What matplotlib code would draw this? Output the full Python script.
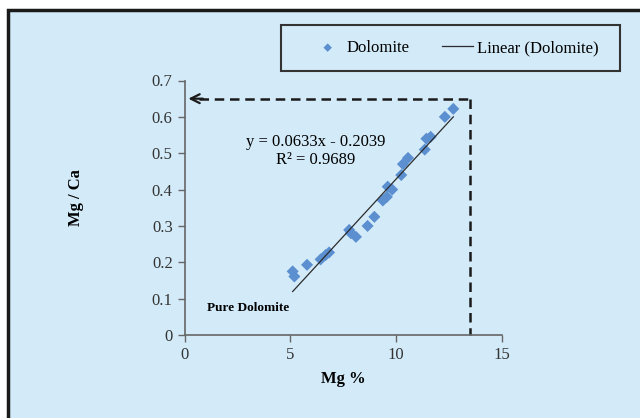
import numpy as np
import matplotlib.pyplot as plt
from matplotlib.patches import Rectangle

# Mg % and Mg/Ca ratio for the dolomite samples
mg_pct = np.array([5.11, 5.19, 5.79, 6.43, 6.67, 6.83, 7.78, 7.86, 8.10, 8.65,
                   8.97, 9.37, 9.56, 9.60, 9.81, 10.24, 10.32, 10.56, 11.35,
                   11.43, 11.63, 12.30, 12.70])
mg_ca = np.array([0.175, 0.161, 0.193, 0.208, 0.220, 0.227, 0.289, 0.280, 0.270,
                  0.300, 0.325, 0.370, 0.380, 0.408, 0.400, 0.440, 0.470, 0.487,
                  0.510, 0.540, 0.545, 0.600, 0.622])

# trendline coefficients
slope = 0.0633
intercept = -0.2039
r2 = 0.9689

# dashed guide lines
guide_x = 13.5
guide_y = 0.65

bg = '#d3ebf8'
serif = ['Liberation Serif', 'DejaVu Serif']
plt.rcParams['font.family'] = serif

fig = plt.figure(figsize=(6.4, 4.18), dpi=100)
fig.patch.set_facecolor('white')

# framed light blue panel
frame = Rectangle((8 / 640, -0.05), 1.1, 1 - 10 / 418 + 0.05, transform=fig.transFigure,
                  facecolor=bg, edgecolor='#1a1a1a', linewidth=2.5, zorder=-5)
fig.patches.append(frame)

# box around the legend
legbox = Rectangle((281 / 640, 1 - 71 / 418), 339 / 640, 46 / 418, transform=fig.transFigure,
                   facecolor='none', edgecolor='#333333', linewidth=1.5, zorder=-4)
fig.patches.append(legbox)

ax = fig.add_axes([184.5 / 640, 83 / 418, 317.5 / 640, 254.5 / 418])
ax.set_facecolor('none')

ax.scatter(mg_pct, mg_ca, marker='D', s=38, color='#5b8fd0', edgecolors='none',
           label='Dolomite', zorder=3)
xs = np.array([mg_pct.min(), mg_pct.max()])
ax.plot(xs, slope * xs + intercept, color='#2b2b2b', lw=0.9, label='Linear (Dolomite)', zorder=4)

# guide lines with arrow to the y axis
ax.plot([0.7, guide_x], [guide_y, guide_y], ls=(0, (3.8, 2.3)), color='#1a1a1a', lw=1.8,
        clip_on=False)
ax.plot([guide_x, guide_x], [guide_y, 0], ls=(0, (3.8, 2.3)), color='#1a1a1a', lw=1.8,
        clip_on=False)
ax.annotate('', xy=(0.05, guide_y), xytext=(1.0, guide_y),
            arrowprops=dict(arrowstyle='->', color='#1a1a1a', lw=1.6, mutation_scale=16))

ax.text(6.2, 0.53, f'y = {slope}x - {abs(intercept)}', ha='center', va='center', fontsize=12)
ax.text(6.2, 0.48, f'R² = {r2}', ha='center', va='center', fontsize=12)
ax.text(1.05, 0.075, 'Pure Dolomite', ha='left', va='center', fontsize=9.5, fontweight='bold')

ax.set_xlim(0, 15)
ax.set_ylim(0, 0.7)
ax.set_xticks([0, 5, 10, 15])
ax.set_yticks(np.arange(0, 0.71, 0.1))
ax.set_yticklabels(['0', '0.1', '0.2', '0.3', '0.4', '0.5', '0.6', '0.7'])
ax.tick_params(labelsize=12, labelcolor='#333333', color='#666666', length=5, width=1,
               direction='out')
for side in ['top', 'right']:
    ax.spines[side].set_visible(False)
for side in ['left', 'bottom']:
    ax.spines[side].set_color('#666666')
    ax.spines[side].set_linewidth(1.2)

fig.text(343 / 640, 1 - 379 / 418, 'Mg %', ha='center', va='center', fontsize=12,
         fontweight='bold')
fig.text(76 / 640, 1 - 198 / 418, 'Mg / Ca', ha='center', va='center', fontsize=12,
         fontweight='bold', rotation=90)

leg = fig.legend(loc='center', bbox_to_anchor=(455 / 640, 1 - 48 / 418), ncol=2,
                 fontsize=12, frameon=False, handlelength=1.9,
                 handletextpad=0.2, columnspacing=1.9, markerscale=0.7)

fig.savefig('out.png', dpi=100)
